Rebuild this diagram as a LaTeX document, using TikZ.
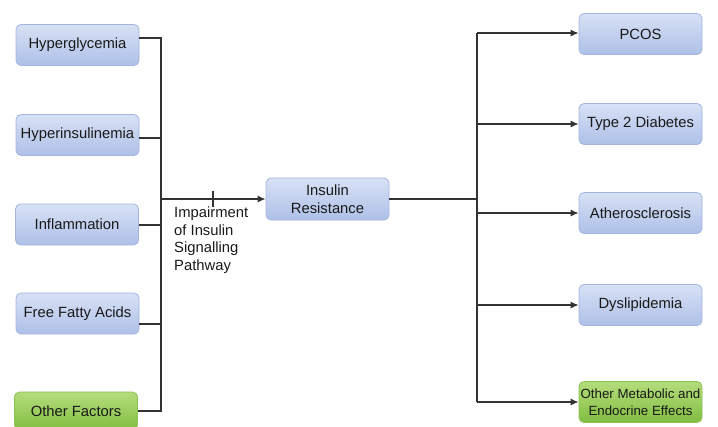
\documentclass[tikz,border=0pt]{standalone}
\usepackage{fontspec}
\setmainfont{Liberation Sans}
\usetikzlibrary{arrows.meta}
\definecolor{bluetop}{HTML}{D8E1F5}
\definecolor{bluebot}{HTML}{AEC0E8}
\definecolor{blueedge}{HTML}{A3B5DE}
\definecolor{greentop}{HTML}{B4DC7C}
\definecolor{greenbot}{HTML}{82BE42}
\definecolor{greenedge}{HTML}{8CC152}
\definecolor{linecol}{HTML}{333333}
\tikzset{
  bluebox/.style={draw=blueedge, line width=0.8pt, rounded corners=5pt,
    top color=bluetop, bottom color=bluebot, minimum width=123pt, minimum height=41pt,
    inner sep=2pt, align=center, text=black!90, font=\fontsize{14.8}{17.6}\selectfont},
  greenbox/.style={bluebox, draw=greenedge, top color=greentop, bottom color=greenbot},
  conn/.style={draw=linecol, line width=1.2pt},
  arr/.style={conn, -{Latex[length=8pt,width=7pt]}},
  lbl/.style={font=\fontsize{14.8}{17.5}\selectfont, align=left, inner sep=0pt, text=black!90}
}
\begin{document}
\begin{tikzpicture}[x=1pt,y=-1pt]
\useasboundingbox (0,0) rectangle (718,426);
% left boxes
\node[bluebox] (hg) at (77.5,45) {Hyperglycemia};
\node[bluebox] (hi) at (77.5,135) {Hyperinsulinemia};
\node[bluebox] (inf) at (77,224.5) {Inflammation};
\node[bluebox] (ffa) at (77.5,313.5) {Free Fatty Acids};
\node[greenbox, minimum height=38pt] (of) at (76,411) {Other Factors};
% center
\node[bluebox, minimum width=123pt, minimum height=42pt] (ir) at (327.5,199) {Insulin\\Resistance};
% right boxes
\node[bluebox] (pcos) at (640.5,34) {PCOS};
\node[bluebox] (t2d) at (640.5,124) {Type 2 Diabetes};
\node[bluebox] (ath) at (640.5,213) {Atherosclerosis};
\node[bluebox] (dys) at (640.5,305) {Dyslipidemia};
\node[greenbox, minimum height=41pt, inner xsep=0.5pt, font=\fontsize{13.3}{16.8}\selectfont] (ome) at (640.5,402) {Other Metabolic and\\Endocrine Effects};
% junction coordinates
\coordinate (lt) at (161,38);
\coordinate (lb) at (161,411);
\coordinate (lm) at (161,199);
\coordinate (rt) at (477,33);
\coordinate (rb) at (477,402);
\coordinate (rm) at (477,199);
% left connectors
\draw[conn] (hg.east |- lt) -- (lt) -- (lb) -- (of.east |- lb);
\draw[conn] (hi.east |- 0,138) -- (161,138);
\draw[conn] (inf.east |- 0,225) -- (161,225);
\draw[conn] (ffa.east |- 0,324) -- (161,324);
\draw[arr] (lm) -- (ir.west);
\coordinate (tk) at (213,199);
\draw[conn] ([yshift=-8pt]tk) -- ([yshift=8pt]tk);
\node[lbl, anchor=north west] (imp) at (174,207) {Impairment\\of Insulin\\Signalling\\Pathway};
% right connectors
\draw[conn] (ir.east) -- (rm);
\draw[conn] (rt) -- (rb);
\draw[arr] (rt) -- (pcos.west |- rt);
\draw[arr] (477,124) -- (t2d.west);
\draw[arr] (477,213) -- (ath.west);
\draw[arr] (477,305) -- (dys.west);
\draw[arr] (rb) -- (ome.west);
\end{tikzpicture}
\end{document}
